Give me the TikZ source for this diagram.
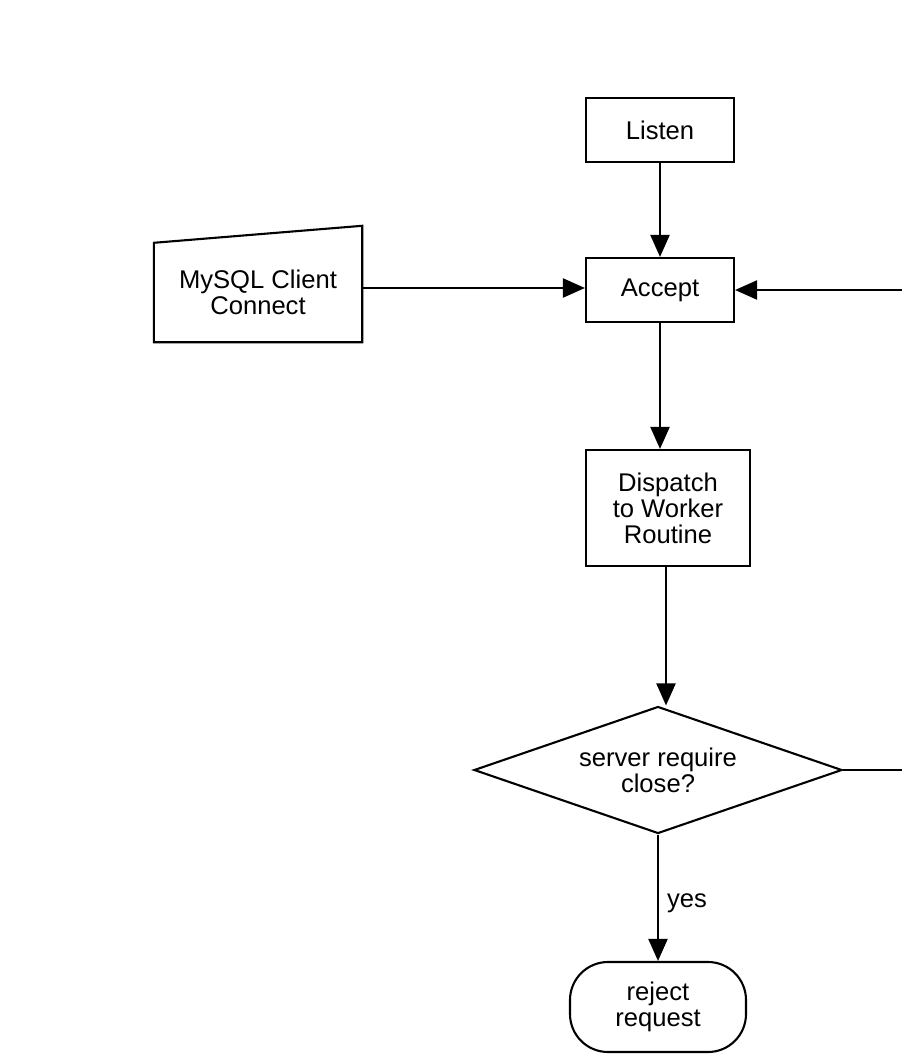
\documentclass[tikz,border=0pt]{standalone}
\usepackage{fontspec}
\setmainfont{Liberation Sans}
\usetikzlibrary{arrows.meta,shapes.geometric,calc}
\begin{document}
\begin{tikzpicture}[x=1pt,y=-1pt,
  every node/.style={font=\fontsize{25.6}{26}\selectfont, align=center, inner sep=0pt},
  box/.style={draw, line width=2.1pt, rectangle},
  arr/.style={line width=2.1pt, -{Triangle[length=22pt,width=19pt]}},
  ln/.style={line width=2.1pt}]
\useasboundingbox[fill=white] (0,0) rectangle (902,1054);
\node[box, minimum width=148pt, minimum height=64pt] (listen) at (660,130) {Listen};
\node[box, minimum width=148pt, minimum height=64pt] (accept) at (660,290) {Accept};
\node[minimum width=208pt, minimum height=99pt] (client) at (258,292.5) {MySQL Client\\Connect};
\draw[line width=2.1pt, line join=miter] (client.south west) -- (client.north west) -- ([yshift=17pt]client.north east) -- (client.south east) -- cycle;
\node[box, minimum width=164pt, minimum height=116pt] (dispatch) at (668,508) {Dispatch\\to Worker\\Routine};
\node[draw, diamond, aspect=2.9, line width=2.1pt, minimum width=368pt, minimum height=127pt] (decision) at (658,770) {server require\\close?};
\node[draw, line width=2.1pt, rectangle, rounded corners=38pt, minimum width=176pt, minimum height=90pt] (reject) at (658,1007) {reject\\request};
\coordinate (re1) at (902,290);
\coordinate (re2) at (902,770);
\draw[arr] (listen) -- (accept);
\draw[arr] ([yshift=4.5pt]client.east) -- ([yshift=2pt]accept.west);
\draw[arr] (re1) -- (accept.east);
\draw[arr] (accept.south) -- (accept.south |- dispatch.north);
\draw[arr] ([xshift=-2pt]dispatch.south) -- ([xshift=-2pt]dispatch.south |- decision.north);
\draw[ln] (decision.east) -- (re2);
\draw[arr] (decision.south) -- node[right=8pt, pos=0.5, yshift=-6pt] (yes) {yes} (reject.north);
\end{tikzpicture}
\end{document}
